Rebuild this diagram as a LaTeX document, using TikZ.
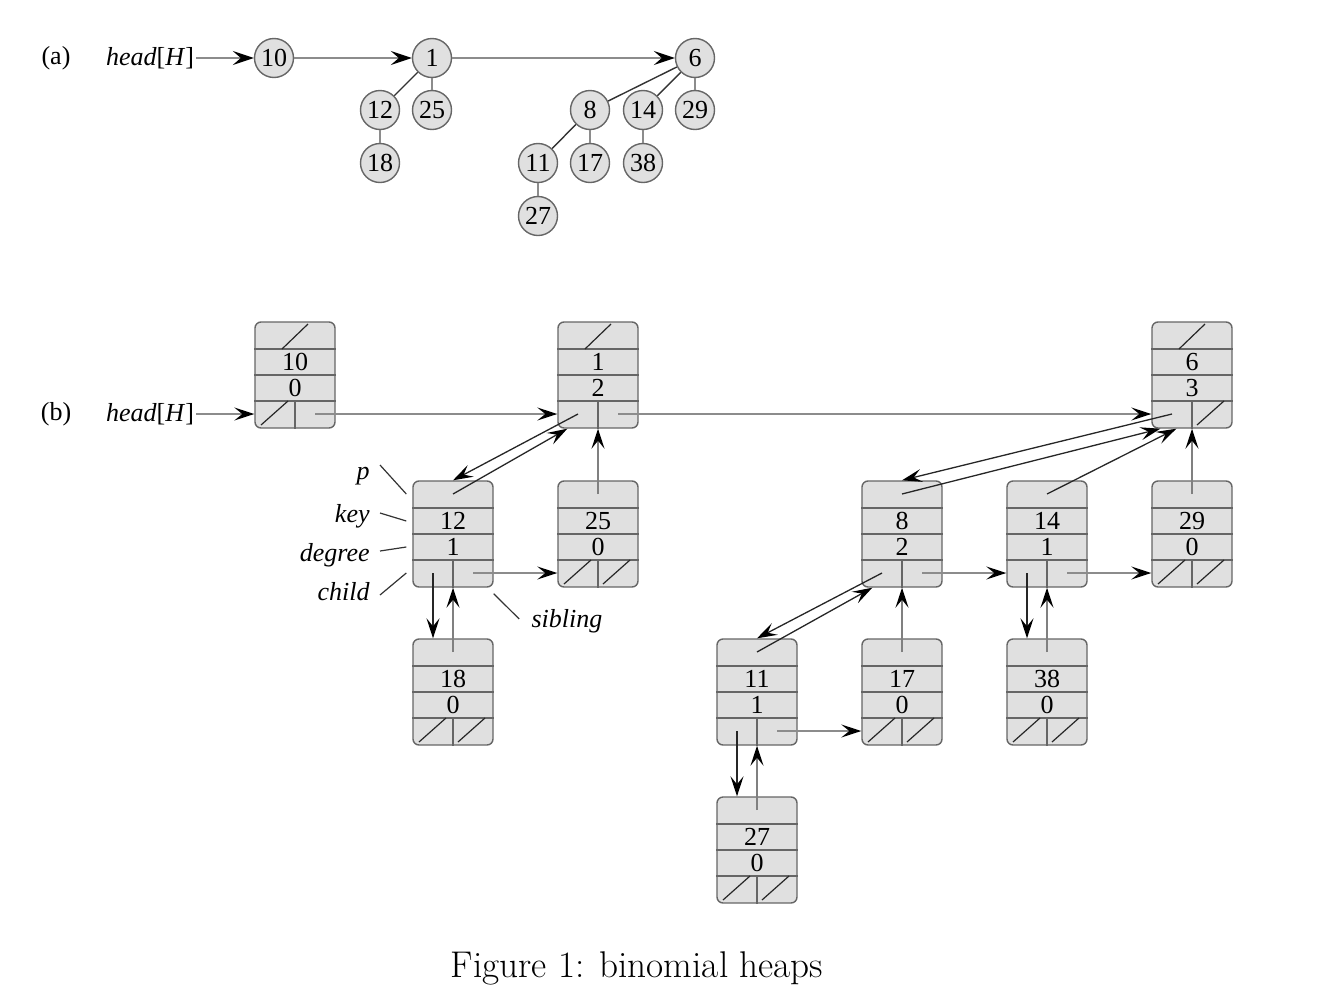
\documentclass[tikz,border=0pt]{standalone}
\usepackage{fontspec}
\usepackage{tikz}
\usetikzlibrary{arrows.meta}
\newfontfamily\tms{Liberation Serif}

\begin{document}
\begin{tikzpicture}[x=0.5pt, y=-0.5pt,
	txt/.style = {font=\tms\fontsize{13}{15}\selectfont, inner sep=1pt},
	circ/.style = {circle, draw=black!60, fill=black!12, line width=0.7pt, minimum size=19.5pt, inner sep=0pt, font=\tms\fontsize{13}{15}\selectfont},
	rec/.style = {draw=black!60, fill=black!12, line width=0.7pt, rounded corners=3pt, minimum width=40pt, minimum height=53pt, inner sep=0pt},
	cell/.style = {black!60, line width=0.7pt},
	slash/.style = {black!85, line width=0.6pt},
	tip/.style = {-{Stealth[length=10pt, width=6.5pt, inset=4pt, color=black]}},
	bigtip/.style = {-{Stealth[length=10.5pt, width=7pt, inset=4pt, color=black]}},
	sib/.style = {black!45, line width=0.7pt},
	ptr/.style = {black!85, line width=0.65pt},
	lptr/.style = {black!50, line width=0.7pt},
	edge/.style = {black!80, line width=0.7pt},
	vedge/.style = {black!45, line width=0.7pt},
	lead/.style = {black!80, line width=0.6pt}]
	\useasboundingbox (0,0) rectangle (1328,996);

	\node[txt] (la) at (56,58) {(a)};
	\node[txt] (hA) at (150,58) {\textit{head}[\textit{H}]};
	\foreach \n/\x/\y in {10/274/58, 1/432/58, 6/695/58, 12/380/110, 25/432/110, 18/380/163, 8/590/110, 14/643/110, 29/695/110, 11/538/163, 17/590/163, 38/643/163, 27/538/216}
		\node[circ] (a\n) at (\x,\y) {\n};
	\draw[sib, bigtip] (hA) -- (a10);
	\draw[sib, bigtip] (a10) -- (a1);
	\draw[sib, bigtip] (a1) -- (a6);
	\foreach \u/\v in {1/12, 6/8, 6/14, 8/11}
		\draw[edge] (a\u) -- (a\v);
	\foreach \u/\v in {1/25, 12/18, 6/29, 8/17, 14/38, 11/27}
		\draw[vedge] (a\u) -- (a\v);

	\node[txt] (lb) at (56,414) {(b)};
	\node[txt] (hB) at (150,414) {\textit{head}[\textit{H}]};
	\foreach \n/\x/\y/\k/\d in {r10/295/375/10/0, r1/598/375/1/2, r6/1192/375/6/3, r12/453/534/12/1, r25/598/534/25/0, r8/902/534/8/2, r14/1047/534/14/1, r29/1192/534/29/0, r18/453/692/18/0, r11/757/692/11/1, r17/902/692/17/0, r38/1047/692/38/0, r27/757/850/27/0}
	{
		\node[rec] (\n) at (\x,\y) {};
		\draw[cell] ([yshift=13pt]\n.west) -- ([yshift=13pt]\n.east)
			(\n.west) -- (\n.east)
			([yshift=-13pt]\n.west) -- ([yshift=-13pt]\n.east)
			([yshift=-13pt]\n.center) -- (\n.south);
		\node[txt] (\n-key) at ([yshift=6.5pt]\n.center) {\k};
		\node[txt] (\n-deg) at ([yshift=-6.5pt]\n.center) {\d};
		\coordinate (\n-p) at ([yshift=20pt]\n.center);
		\coordinate (\n-c) at ([xshift=-10pt,yshift=-19.5pt]\n.center);
		\coordinate (\n-s) at ([xshift=10pt,yshift=-19.5pt]\n.center);
	}
	\foreach \n in {r10,r1,r6}
		\draw[slash] ([xshift=-6.5pt,yshift=13pt]\n.center) -- ([xshift=6.5pt,yshift=25.5pt]\n.center);
	\foreach \n in {r10,r25,r29,r18,r17,r38,r27}
		\draw[slash] ([xshift=-17pt,yshift=-25pt]\n.center) -- ([xshift=-3.5pt,yshift=-13pt]\n.center);
	\foreach \n in {r6,r25,r29,r18,r17,r38,r27}
		\draw[slash] ([xshift=2.5pt,yshift=-25pt]\n.center) -- ([xshift=16pt,yshift=-13pt]\n.center);

	\draw[sib, tip] (hB.east) -- (hB.east -| r10.west);
	\foreach \u/\v in {r10/r1, r1/r6, r12/r25, r8/r14, r14/r29, r11/r17}
		\draw[sib, tip] (\u-s) -- (\u-s -| \v.west);
	\foreach \u/\v in {r1/r12, r6/r8, r8/r11}
		\draw[ptr, tip] (\u-c) -- (\v.north);
	\foreach \u/\v in {r12/r18, r11/r27, r14/r38}
		\draw[ptr, tip] (\u-c) -- (\u-c |- \v.north);
	\foreach \u/\v in {r25/r1, r29/r6, r18/r12, r27/r11, r17/r8, r38/r14}
		\draw[lptr, tip] (\u-p) -- (\u-p |- \v.south);
	\draw[ptr, tip] (r12-p) -- ([xshift=5pt]r1.south west);
	\draw[ptr, tip] (r8-p) -- ([xshift=4.5pt]r6.south west);
	\draw[ptr, tip] (r14-p) -- ([xshift=12.5pt]r6.south west);
	\draw[ptr, tip] (r11-p) -- ([xshift=5.5pt]r8.south west);

	\node[txt, anchor=base east] (lp) at (372,479) {\textit{p}};
	\node[txt, anchor=base east] (lk) at (372,522) {\textit{key}};
	\node[txt, anchor=base east] (ld) at (372,561) {\textit{degree}};
	\node[txt, anchor=base east] (lc) at (372,600) {\textit{child}};
	\node[txt] (ls) at (567,621) {\textit{sibling}};
	\draw[lead] ([xshift=4pt,yshift=7pt]lp.base east) -- ([xshift=-3pt,yshift=20pt]r12.west);
	\draw[lead] ([xshift=4pt,yshift=4.5pt]lk.base east) -- ([xshift=-3pt,yshift=6.5pt]r12.west);
	\draw[lead] ([xshift=4pt,yshift=5pt]ld.base east) -- ([xshift=-3pt,yshift=-6.5pt]r12.west);
	\draw[lead] ([xshift=4pt,yshift=2.5pt]lc.base east) -- ([xshift=-3pt,yshift=-19.5pt]r12.west);
	\draw[lead] ([xshift=0pt,yshift=-3pt]r12.south east) -- ([xshift=-5pt,yshift=1pt]ls.west);

	\node (cap) at (637,968) {\fontsize{18.6}{22}\selectfont Figure 1: binomial heaps};
\end{tikzpicture}
\end{document}
